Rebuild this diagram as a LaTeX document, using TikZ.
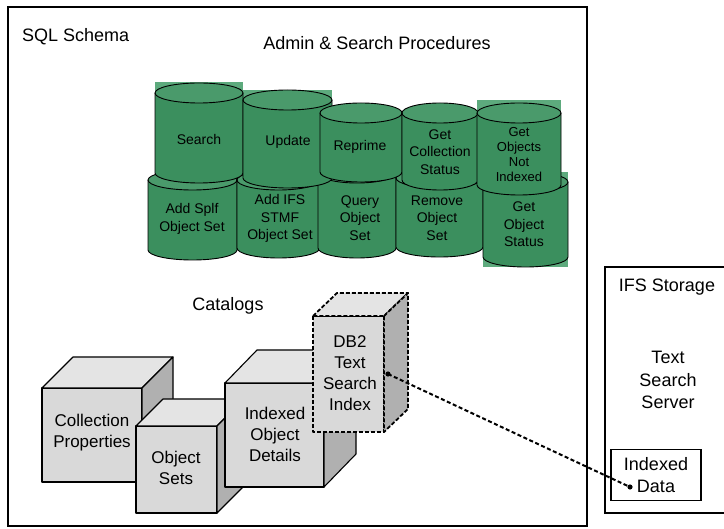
\documentclass[tikz,border=0pt]{standalone}
\usepackage{fontspec}
\setmainfont{Liberation Sans}
\usetikzlibrary{arrows.meta}

\definecolor{cylbody}{HTML}{3B8F5E}
\definecolor{cyltop}{HTML}{4A9A6B}
\definecolor{cylback}{HTML}{5DAA7D}
\definecolor{cubefront}{HTML}{D9D9D9}
\definecolor{cubetop}{HTML}{E4E4E4}
\definecolor{cubeside}{HTML}{B0B0B0}

% green stored-procedure cylinder: left, right, top, bottom
\newcommand\greencyl[4]{%
  \pgfmathsetmacro\cylrx{(#2-#1)/2}%
  \pgfmathsetmacro\cylcx{(#1+#2)/2}%
  \fill[cylbody] (#1,#3+10) -- (#1,#4-10)
    arc[start angle=180,end angle=0,x radius=\cylrx,y radius=10] -- (#2,#3+10) -- cycle;
  \filldraw[fill=cyltop,cyledge] (\cylcx,#3+10) ellipse[x radius=\cylrx,y radius=10];
  \draw[cyledge] (#1,#3+10) -- (#1,#4-10)
    arc[start angle=180,end angle=0,x radius=\cylrx,y radius=10] -- (#2,#3+10);
}

% grey catalog cube: front left, top, right, bottom, depth x, depth y, edge style
\newcommand\graycube[7]{%
  \filldraw[fill=cubefront,#7] (#1,#2) rectangle (#3,#4);
  \filldraw[fill=cubetop,#7] (#1,#2) -- (#1+#5,#2-#6) -- (#3+#5,#2-#6) -- (#3,#2) -- cycle;
  \filldraw[fill=cubeside,#7] (#3,#2) -- (#3+#5,#2-#6) -- (#3+#5,#4-#6) -- (#3,#4) -- cycle;
}

\begin{document}
\begin{tikzpicture}[x=1pt,y=-1pt,
  frame/.style={draw=black,line width=1.2pt},
  lbl/.style={font=\fontsize{18}{22}\selectfont,inner sep=0pt},
  bigtxt/.style={font=\fontsize{18}{22.5}\selectfont,align=center,inner sep=0pt},
  cyltxt/.style={font=\fontsize{14}{17.5}\selectfont,align=center,inner sep=0pt},
  smalltxt/.style={font=\fontsize{13}{15}\selectfont,align=center,inner sep=0pt},
  cubetxt/.style={font=\fontsize{17}{21}\selectfont,align=center,inner sep=0pt},
  cyledge/.style={draw=black,line width=0.9pt},
  cubeedge/.style={draw=black,line width=1.1pt,line join=round},
  dbedge/.style={draw=black,line width=1.8pt,dash pattern=on 4pt off 2pt,line join=round},
  link/.style={draw=black,line width=2pt,dash pattern=on 4pt off 2.5pt},
]
\useasboundingbox (0,0) rectangle (724,529);
\fill[white] (0,0) rectangle (724,529);

% frames
\draw[frame] (8,7) rectangle (587,526);
\draw[frame] (726,267) -- (605,267) -- (605,513) -- (726,513);

% backgrounds behind some cylinders
\fill[cylback] (155,82) rectangle (243,100);
\fill[cylback] (243,90) rectangle (332,106);
\fill[cylback] (477,100) rectangle (561,116);
\fill[cylback] (483,172) rectangle (568,267);

% lower row of procedures
\greencyl{148}{237}{170}{260}
\greencyl{237}{320}{170}{258}
\greencyl{318}{396}{163}{258}
\greencyl{396}{483}{168}{257}
\greencyl{483}{568}{172}{267}
% upper row of procedures
\greencyl{155}{243}{83}{183}
\greencyl{243}{332}{90}{188}
\greencyl{320}{402}{103}{182}
\greencyl{402}{478}{103}{190}
\greencyl{477}{561}{103}{195}

% catalogs
\graycube{42}{388}{142}{482}{31}{31}{cubeedge}
\graycube{136}{426}{217}{513}{27}{27}{cubeedge}
\graycube{225}{383}{324}{487}{32}{33}{cubeedge}
\graycube{313}{316}{384}{432}{24}{23}{dbedge}

% titles
\node[lbl,anchor=west] (sqltitle) at (22,37) {SQL Schema};
\node[lbl] (proctitle) at (377,43) {Admin \& Search Procedures};
\node[lbl] (cattitle) at (228,306) {Catalogs};
\node[lbl] (ifstitle) at (667,287) {IFS Storage};
\node[bigtxt] (tss) at (668,380) {Text\\Search\\Server};

% procedure labels
\node[cyltxt] (search) at (199,139) {Search};
\node[cyltxt] (update) at (288,142) {Update};
\node[cyltxt] (reprime) at (360,147) {Reprime};
\node[cyltxt] (collstat) at (440,152) {Get\\Collection\\Status};
\node[smalltxt] (notidx) at (519,155) {Get\\Objects\\Not\\Indexed};
\node[cyltxt] (addsplf) at (192,219) {Add Splf\\Object Set};
\node[cyltxt] (addifs) at (280,218.5) {Add IFS\\STMF\\Object Set};
\node[cyltxt] (query) at (360,218) {Query\\Object\\Set};
\node[cyltxt] (remove) at (437,218) {Remove\\Object\\Set};
\node[cyltxt] (objstat) at (524,224.5) {Get\\Object\\Status};

% catalog labels
\node[cubetxt] (collprop) at (92,433) {Collection\\Properties};
\node[cubetxt] (objsets) at (176,468) {Object\\Sets};
\node[cubetxt] (objdet) at (275,434) {Indexed\\Object\\Details};
\node[cubetxt] (db2idx) at (350,373) {DB2\\Text\\Search\\Index};

% indexed data in IFS
\node[frame,bigtxt,minimum width=90pt,minimum height=51pt] (idxdata) at (656,475) {Indexed\\Data};

% index to data link
\coordinate (dbport) at (388,374);
\coordinate (dataport) at (630,487);
\draw[link] (dbport) -- (dataport);
\fill (dbport) circle[radius=2.6];
\fill (dataport) circle[radius=2.6];
\end{tikzpicture}
\end{document}
